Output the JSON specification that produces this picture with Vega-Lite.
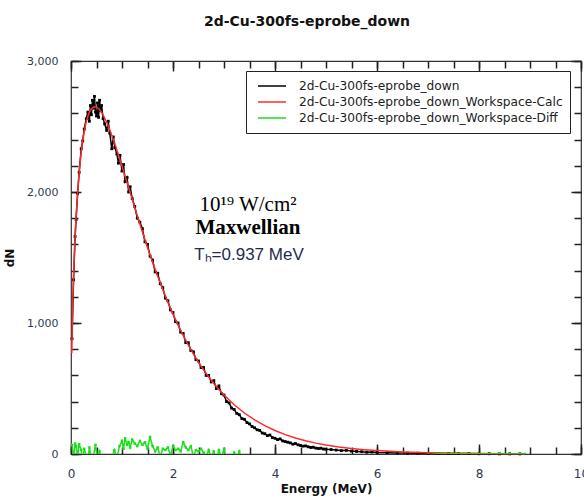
{
  "$schema": "https://vega.github.io/schema/vega-lite/v6.json",
  "autosize": {"type": "none"},
  "padding": {"left": 71, "top": 61, "right": 3, "bottom": 44},
  "width": 510,
  "height": 393,
  "background": "white",
  "title": {"text": "2d-Cu-300fs-eprobe_down", "font": "DejaVu Sans", "fontSize": 14, "fontWeight": "bold", "color": "#111", "anchor": "middle", "dx": -19, "offset": 26},
  "config": {
    "view": {"stroke": "#333", "strokeWidth": 1.2},
    "axis": {"grid": false, "domain": false, "zindex": 1, "ticks": true, "tickColor": "#222", "tickWidth": 1.5, "labelColor": "#2f3a4f", "titleColor": "#111"}
  },
  "datasets": {
    "meas": [
      {"E":0.02,"dN":880},{"E":0.05,"dN":1330},{"E":0.08,"dN":1660},{"E":0.1,"dN":1790},{"E":0.13,"dN":1990},{"E":0.16,"dN":2150},{"E":0.2,"dN":2330},{"E":0.23,"dN":2390},{"E":0.26,"dN":2480},{"E":0.3,"dN":2560},{"E":0.33,"dN":2610},{"E":0.36,"dN":2540},{"E":0.38,"dN":2660},{"E":0.4,"dN":2590},{"E":0.42,"dN":2700},{"E":0.44,"dN":2640},{"E":0.46,"dN":2730},{"E":0.48,"dN":2610},{"E":0.5,"dN":2580},{"E":0.52,"dN":2680},{"E":0.54,"dN":2570},{"E":0.56,"dN":2700},{"E":0.58,"dN":2620},{"E":0.6,"dN":2660},{"E":0.63,"dN":2560},{"E":0.66,"dN":2520},{"E":0.7,"dN":2470},{"E":0.73,"dN":2540},{"E":0.76,"dN":2450},{"E":0.8,"dN":2330},{"E":0.83,"dN":2420},{"E":0.86,"dN":2340},{"E":0.9,"dN":2290},{"E":0.93,"dN":2220},{"E":0.96,"dN":2280},{"E":1.0,"dN":2160},{"E":1.03,"dN":2210},{"E":1.06,"dN":2080},{"E":1.1,"dN":2110},{"E":1.13,"dN":2000},{"E":1.16,"dN":2040},{"E":1.2,"dN":1950},{"E":1.25,"dN":1890},{"E":1.3,"dN":1800},{"E":1.35,"dN":1770},{"E":1.4,"dN":1720},{"E":1.45,"dN":1620},{"E":1.5,"dN":1600},{"E":1.55,"dN":1510},{"E":1.6,"dN":1480},{"E":1.65,"dN":1390},{"E":1.7,"dN":1380},{"E":1.75,"dN":1300},{"E":1.8,"dN":1270},{"E":1.85,"dN":1190},{"E":1.9,"dN":1170},{"E":1.95,"dN":1100},{"E":2.0,"dN":1080},{"E":2.05,"dN":1010},{"E":2.1,"dN":1000},{"E":2.15,"dN":930},{"E":2.2,"dN":920},{"E":2.25,"dN":850},{"E":2.3,"dN":850},{"E":2.35,"dN":790},{"E":2.4,"dN":780},{"E":2.45,"dN":720},{"E":2.5,"dN":710},{"E":2.55,"dN":660},{"E":2.6,"dN":660},{"E":2.65,"dN":600},{"E":2.7,"dN":600},{"E":2.75,"dN":550},{"E":2.8,"dN":560},{"E":2.85,"dN":500},{"E":2.9,"dN":520},{"E":2.95,"dN":460},{"E":3.0,"dN":450},{"E":3.05,"dN":400},{"E":3.1,"dN":390},{"E":3.15,"dN":350},{"E":3.2,"dN":340},{"E":3.25,"dN":310},{"E":3.3,"dN":300},{"E":3.35,"dN":270},{"E":3.4,"dN":265},{"E":3.45,"dN":240},{"E":3.5,"dN":230},{"E":3.55,"dN":210},{"E":3.6,"dN":200},{"E":3.65,"dN":185},{"E":3.7,"dN":180},{"E":3.75,"dN":160},{"E":3.8,"dN":155},{"E":3.85,"dN":140},{"E":3.9,"dN":145},{"E":3.95,"dN":125},{"E":4.0,"dN":120},{"E":4.05,"dN":110},{"E":4.1,"dN":115},{"E":4.15,"dN":100},{"E":4.2,"dN":95},{"E":4.25,"dN":90},{"E":4.3,"dN":85},{"E":4.35,"dN":75},{"E":4.4,"dN":80},{"E":4.45,"dN":70},{"E":4.5,"dN":65},{"E":4.55,"dN":60},{"E":4.6,"dN":62},{"E":4.65,"dN":55},{"E":4.7,"dN":50},{"E":4.75,"dN":52},{"E":4.8,"dN":45},{"E":4.85,"dN":42},{"E":4.9,"dN":44},{"E":4.95,"dN":38},{"E":5.0,"dN":36},{"E":5.1,"dN":34},{"E":5.2,"dN":30},{"E":5.3,"dN":26},{"E":5.4,"dN":28},{"E":5.5,"dN":22},{"E":5.6,"dN":20},{"E":5.7,"dN":18},{"E":5.8,"dN":14},{"E":5.9,"dN":15},{"E":6.0,"dN":12},{"E":6.2,"dN":10},{"E":6.4,"dN":8},{"E":6.6,"dN":7},{"E":6.8,"dN":6},{"E":7.0,"dN":5},{"E":7.2,"dN":4},{"E":7.4,"dN":4},{"E":7.6,"dN":3},{"E":7.8,"dN":3},{"E":8.0,"dN":2},{"E":8.2,"dN":2},{"E":8.4,"dN":1},{"E":8.6,"dN":1},{"E":8.8,"dN":1}
    ],
    "calc": [
      {"E":0.015,"dN":770},{"E":0.03,"dN":1071},{"E":0.05,"dN":1354},{"E":0.075,"dN":1614},{"E":0.1,"dN":1815},{"E":0.15,"dN":2107},{"E":0.2,"dN":2307},{"E":0.25,"dN":2445},{"E":0.3,"dN":2539},{"E":0.35,"dN":2600},{"E":0.4,"dN":2635},{"E":0.45,"dN":2650},{"E":0.5,"dN":2648},{"E":0.55,"dN":2633},{"E":0.6,"dN":2607},{"E":0.65,"dN":2572},{"E":0.7,"dN":2531},{"E":0.75,"dN":2484},{"E":0.8,"dN":2432},{"E":0.85,"dN":2377},{"E":0.9,"dN":2318},{"E":0.95,"dN":2258},{"E":1.0,"dN":2196},{"E":1.1,"dN":2071},{"E":1.2,"dN":1944},{"E":1.3,"dN":1818},{"E":1.4,"dN":1695},{"E":1.5,"dN":1577},{"E":1.6,"dN":1464},{"E":1.7,"dN":1357},{"E":1.8,"dN":1255},{"E":1.9,"dN":1158},{"E":2.0,"dN":1068},{"E":2.1,"dN":984},{"E":2.2,"dN":905},{"E":2.3,"dN":832},{"E":2.4,"dN":764},{"E":2.5,"dN":700},{"E":2.6,"dN":642},{"E":2.7,"dN":589},{"E":2.8,"dN":538},{"E":2.9,"dN":492},{"E":3.0,"dN":450},{"E":3.2,"dN":376},{"E":3.4,"dN":313},{"E":3.6,"dN":260},{"E":3.8,"dN":216},{"E":4.0,"dN":179},{"E":4.2,"dN":148},{"E":4.4,"dN":122},{"E":4.6,"dN":101},{"E":4.8,"dN":83},{"E":5.0,"dN":69},{"E":5.25,"dN":54},{"E":5.5,"dN":42},{"E":5.75,"dN":33},{"E":6.0,"dN":26},{"E":6.5,"dN":16},{"E":7.0,"dN":10},{"E":7.5,"dN":6},{"E":8.0,"dN":4},{"E":8.5,"dN":2},{"E":8.9,"dN":1}
    ],
    "diff": [
      {"E":0.02,"dN":70},{"E":0.05,"dN":-30},{"E":0.08,"dN":80},{"E":0.1,"dN":60},{"E":0.13,"dN":-20},{"E":0.16,"dN":75},{"E":0.2,"dN":30},{"E":0.23,"dN":-50},{"E":0.26,"dN":40},{"E":0.3,"dN":-10},{"E":0.33,"dN":-60},{"E":0.36,"dN":50},{"E":0.4,"dN":-40},{"E":0.44,"dN":-20},{"E":0.48,"dN":70},{"E":0.52,"dN":-30},{"E":0.56,"dN":20},{"E":0.6,"dN":-50},{"E":0.65,"dN":-10},{"E":0.7,"dN":-60},{"E":0.75,"dN":-20},{"E":0.8,"dN":-40},{"E":0.85,"dN":30},{"E":0.9,"dN":-30},{"E":0.95,"dN":60},{"E":1.0,"dN":100},{"E":1.03,"dN":40},{"E":1.06,"dN":120},{"E":1.1,"dN":70},{"E":1.13,"dN":90},{"E":1.16,"dN":50},{"E":1.2,"dN":110},{"E":1.25,"dN":80},{"E":1.3,"dN":60},{"E":1.35,"dN":100},{"E":1.4,"dN":70},{"E":1.45,"dN":90},{"E":1.5,"dN":40},{"E":1.55,"dN":130},{"E":1.6,"dN":60},{"E":1.65,"dN":20},{"E":1.7,"dN":50},{"E":1.75,"dN":-20},{"E":1.8,"dN":40},{"E":1.85,"dN":30},{"E":1.9,"dN":50},{"E":1.95,"dN":-10},{"E":2.0,"dN":60},{"E":2.05,"dN":30},{"E":2.1,"dN":40},{"E":2.15,"dN":20},{"E":2.2,"dN":90},{"E":2.25,"dN":50},{"E":2.3,"dN":30},{"E":2.35,"dN":60},{"E":2.4,"dN":-20},{"E":2.45,"dN":30},{"E":2.5,"dN":20},{"E":2.55,"dN":40},{"E":2.6,"dN":10},{"E":2.65,"dN":-20},{"E":2.7,"dN":30},{"E":2.75,"dN":-30},{"E":2.8,"dN":20},{"E":2.85,"dN":-40},{"E":2.9,"dN":30},{"E":2.95,"dN":-30},{"E":3.0,"dN":40},{"E":3.05,"dN":-50},{"E":3.1,"dN":-30},{"E":3.15,"dN":-60},{"E":3.2,"dN":10},{"E":3.25,"dN":-40},{"E":3.3,"dN":20},{"E":3.35,"dN":-50},{"E":3.4,"dN":-40},{"E":3.6,"dN":-60},{"E":3.8,"dN":-60},{"E":4.0,"dN":-60},{"E":4.3,"dN":-50},{"E":4.6,"dN":-40},{"E":5.0,"dN":-33},{"E":5.5,"dN":-20},{"E":6.0,"dN":-14},{"E":6.5,"dN":-8},{"E":7.0,"dN":-5},{"E":7.2,"dN":0},{"E":7.4,"dN":0},{"E":7.6,"dN":0},{"E":7.8,"dN":0},{"E":8.0,"dN":0},{"E":8.2,"dN":0},{"E":8.4,"dN":0},{"E":8.6,"dN":0},{"E":8.8,"dN":0},{"E":8.9,"dN":0}
    ]
  },
  "resolve": {"axis": {"x": "independent", "y": "independent"}},
  "layer": [
    {
      "data": {"name": "meas"},
      "mark": {"type": "line", "strokeWidth": 1.5},
      "encoding": {
        "x": {"field": "E", "type": "quantitative", "scale": {"domain": [0, 10], "nice": false},
          "axis": {"orient": "bottom", "offset": -7, "tickSize": 7, "title": "Energy (MeV)", "titleFont": "DejaVu Sans", "titleFontSize": 12, "titleFontWeight": "bold", "titlePadding": 4,
            "values": [0,0.5,1,1.5,2,2.5,3,3.5,4,4.5,5,5.5,6,6.5,7,7.5,8,8.5,9,9.5,10],
            "labelExpr": "datum.value % 2 === 0 ? format(datum.value, 'd') : ''",
            "labelFont": "DejaVu Sans", "labelFontSize": 12, "labelPadding": 14, "labelFlush": false}},
        "y": {"field": "dN", "type": "quantitative", "scale": {"domain": [0, 3000], "nice": false},
          "axis": {"orient": "left", "offset": -7, "tickSize": 7, "title": "dN", "titleFont": "DejaVu Sans", "titleFontSize": 12, "titleFontWeight": "bold", "titlePadding": 10,
            "values": [0,200,400,600,800,1000,1200,1400,1600,1800,2000,2200,2400,2600,2800,3000],
            "labelExpr": "datum.value % 1000 === 0 ? format(datum.value, ',') : ''",
            "labelFont": "DejaVu Sans", "labelFontSize": 11, "labelPadding": 13, "labelFlush": false}},
        "color": {"datum": "2d-Cu-300fs-eprobe_down", "type": "nominal",
          "scale": {"domain": ["2d-Cu-300fs-eprobe_down", "2d-Cu-300fs-eprobe_down_Workspace-Calc", "2d-Cu-300fs-eprobe_down_Workspace-Diff"], "range": ["#000000", "#ff2b2b", "#19e019"]},
          "legend": {"title": null, "orient": "none", "legendX": 175, "legendY": 10, "strokeColor": "#222", "fillColor": "white", "padding": 7,
            "symbolType": "stroke", "symbolSize": 784, "symbolStrokeWidth": 1.5, "symbolOffset": 4, "clipHeight": 16, "rowPadding": 0,
            "labelFont": "DejaVu Sans", "labelFontSize": 12.2, "labelColor": "#222", "labelOffset": 12, "labelLimit": 400}}
      }
    },
    {
      "data": {"name": "meas"},
      "mark": {"type": "point", "shape": "square", "filled": true, "size": 8, "color": "#000", "opacity": 1},
      "encoding": {
        "x": {"field": "E", "type": "quantitative",
          "axis": {"orient": "bottom", "offset": -10, "tickSize": 10, "title": null, "labels": false, "values": [0,2,4,6,8,10]}},
        "y": {"field": "dN", "type": "quantitative",
          "axis": {"orient": "left", "offset": -10, "tickSize": 10, "title": null, "labels": false, "values": [0,1000,2000,3000]}}
      }
    },
    {
      "data": {"name": "calc"},
      "mark": {"type": "line", "strokeWidth": 1.5},
      "encoding": {
        "x": {"field": "E", "type": "quantitative",
          "axis": {"orient": "top", "offset": -7, "tickSize": 7, "title": null, "labels": false,
            "values": [0,0.5,1,1.5,2,2.5,3,3.5,4,4.5,5,5.5,6,6.5,7,7.5,8,8.5,9,9.5,10]}},
        "y": {"field": "dN", "type": "quantitative",
          "axis": {"orient": "right", "offset": -7, "tickSize": 7, "title": null, "labels": false,
            "values": [0,200,400,600,800,1000,1200,1400,1600,1800,2000,2200,2400,2600,2800,3000]}},
        "color": {"datum": "2d-Cu-300fs-eprobe_down_Workspace-Calc", "type": "nominal"}
      }
    },
    {
      "data": {"name": "diff"},
      "mark": {"type": "line", "strokeWidth": 1.5, "clip": true},
      "encoding": {
        "x": {"field": "E", "type": "quantitative",
          "axis": {"orient": "top", "offset": -10, "tickSize": 10, "title": null, "labels": false, "values": [0,2,4,6,8,10]}},
        "y": {"field": "dN", "type": "quantitative",
          "axis": {"orient": "right", "offset": -10, "tickSize": 10, "title": null, "labels": false, "values": [0,1000,2000,3000]}},
        "color": {"datum": "2d-Cu-300fs-eprobe_down_Workspace-Diff", "type": "nominal"}
      }
    },
    {
      "data": {"name": "diff"},
      "mark": {"type": "point", "shape": "square", "filled": true, "size": 6, "color": "#19e019", "opacity": 1, "clip": true},
      "encoding": {
        "x": {"field": "E", "type": "quantitative", "axis": null},
        "y": {"field": "dN", "type": "quantitative", "axis": null}
      }
    },
    {
      "data": {"values": [{"E": 3.47, "dN": 1900, "label": "10¹⁹ W/cm²"}]},
      "mark": {"type": "text", "font": "Liberation Serif", "fontSize": 21, "color": "#000", "align": "center", "baseline": "middle"},
      "encoding": {
        "x": {"field": "E", "type": "quantitative", "axis": null},
        "y": {"field": "dN", "type": "quantitative", "axis": null},
        "text": {"field": "label"}
      }
    },
    {
      "data": {"values": [{"E": 3.47, "dN": 1725, "label": "Maxwellian"}]},
      "mark": {"type": "text", "font": "Liberation Serif", "fontSize": 21, "fontWeight": "bold", "color": "#000", "align": "center", "baseline": "middle"},
      "encoding": {
        "x": {"field": "E", "type": "quantitative", "axis": null},
        "y": {"field": "dN", "type": "quantitative", "axis": null},
        "text": {"field": "label"}
      }
    },
    {
      "data": {"values": [{"E": 3.49, "dN": 1519, "label": "Tₕ=0.937 MeV"}]},
      "mark": {"type": "text", "font": "Liberation Sans", "fontSize": 17, "color": "#1f2d4d", "align": "center", "baseline": "middle"},
      "encoding": {
        "x": {"field": "E", "type": "quantitative", "axis": null},
        "y": {"field": "dN", "type": "quantitative", "axis": null},
        "text": {"field": "label"}
      }
    }
  ]
}
